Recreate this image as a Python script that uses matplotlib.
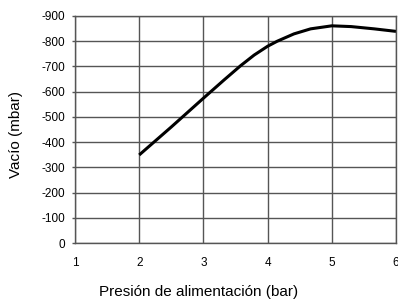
import matplotlib
matplotlib.use("Agg")
import matplotlib.pyplot as plt

# Vacuum vs feed pressure
presion = [2.0, 2.5, 3.0, 3.32, 3.58, 3.79, 4.0, 4.15, 4.41, 4.67, 5.0, 5.3, 5.66, 6.0]
vacio = [-349, -460, -574, -646, -703, -745, -780, -800, -829, -849, -861, -858, -849, -839]

x_ticks = [1, 2, 3, 4, 5, 6]
y_ticks = [0, -100, -200, -300, -400, -500, -600, -700, -800, -900]

plt.rcParams["font.family"] = ["Liberation Sans", "DejaVu Sans"]

fig = plt.figure(figsize=(3.98, 3.0), dpi=100)
ax = fig.add_axes([0.1884, 0.19, 0.8066, 0.7567])

ax.plot(presion, vacio, color="black", linewidth=2.2,
        solid_capstyle="butt", solid_joinstyle="round")

ax.set_xlim(1, 6)
ax.set_ylim(0, -900)
ax.set_xticks(x_ticks)
ax.set_yticks(y_ticks)
ax.set_xticklabels([str(v) for v in x_ticks])
ax.set_yticklabels([str(v) for v in y_ticks])

ax.grid(True, color="#555555", linewidth=1.0)
ax.set_axisbelow(True)
for s in ax.spines.values():
    s.set_color("#555555")
    s.set_linewidth(1.0)

ax.tick_params(axis="x", length=0, labelsize=8.5, colors="black", pad=10)
ax.tick_params(axis="y", length=2.3, width=1.0, color="#555555",
               labelsize=8.5, labelcolor="black", pad=5)

fig.text(0.5, 0.027, "Presión de alimentación (bar)", fontsize=11,
         ha="center", va="center")
fig.text(0.039, 0.55, "Vacío (mbar)", fontsize=11, rotation=90,
         ha="center", va="center")

fig.savefig("out.png", dpi=100)
